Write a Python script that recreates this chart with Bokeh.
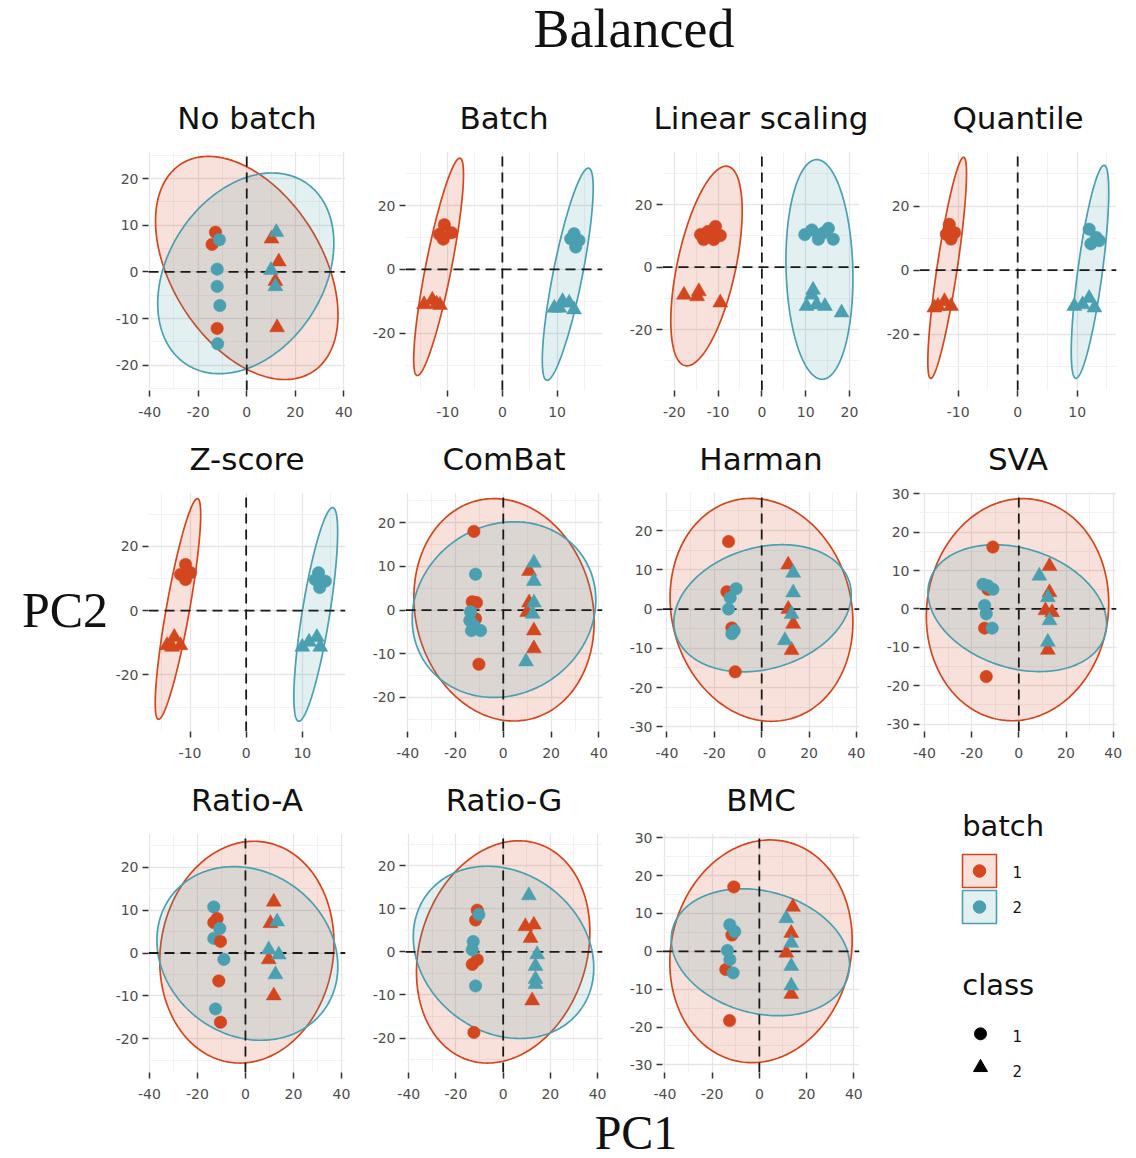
import numpy as np
from bokeh.plotting import figure
from bokeh.layouts import row, column
from bokeh.models import Range1d, FixedTicker, ColumnDataSource, CustomJSTickFormatter
from bokeh.core.properties import value
from bokeh.embed import file_html
from bokeh.resources import INLINE

RED = "#D4461E"
BLUE = "#4A9FB0"

# ---------------- data ----------------
# ellipse = [centre x, centre y, half x-extent, half y-extent, correlation]

nobatch_x = [-12.9, -14.3, -12.2, -11.3, -12.2, -12.2, -11.1, -12.0, 10.2, 13.2, 11.8, 12.5, 12.2, 10.0, 11.8]
nobatch_y = [8.5, 5.9, -12.1, 6.9, 0.6, -3.1, -7.2, -15.4, 7.1, 2.2, -2.0, -11.9, 8.5, 0.4, -3.1]
nobatch_batch = [1, 1, 1, 2, 2, 2, 2, 2, 1, 1, 1, 1, 2, 2, 2]
nobatch_class = [1, 1, 1, 1, 1, 1, 1, 1, 2, 2, 2, 2, 2, 2, 2]
nobatch_ell1 = [0.0, 0.85, 37.6, 23.9, -0.42]
nobatch_ell2 = [-0.4, -0.3, 36.3, 21.5, 0.30]
nobatch_xlim = [-40.5, 40.7]
nobatch_ylim = [-25.4, 25.8]
nobatch_xticks = [-40, -20, 0, 20, 40]
nobatch_yticks = [-20, -10, 0, 10, 20]

batch_x = [-10.6, -9.3, -11.5, -10.8, -14.3, -12.8, -12.0, -11.4, 13.1, 14.0, 13.4, 12.5, 9.5, 11.0, 12.2, 13.1, 10.4]
batch_y = [14.0, 11.5, 11.0, 9.5, -11.0, -9.6, -10.8, -11.2, 11.2, 9.1, 7.0, 9.6, -12.1, -10.0, -10.5, -12.6, -12.1]
batch_batch = [1, 1, 1, 1, 1, 1, 1, 1, 2, 2, 2, 2, 2, 2, 2, 2, 2]
batch_class = [1, 1, 1, 1, 2, 2, 2, 2, 1, 1, 1, 1, 2, 2, 2, 2, 2]
batch_ell1 = [-11.65, 0.8, 4.55, 34.1, 0.85]
batch_ell2 = [11.95, -1.5, 4.65, 33.3, 0.81]
batch_xlim = [-17.7, 18.3]
batch_ylim = [-38.0, 37.0]
batch_xticks = [-10, 0, 10]
batch_yticks = [-20, 0, 20]

linear_x = [-14.0, -12.3, -10.6, -9.5, -11.0, -13.3, -17.8, -14.8, -14.4, -9.5,
            9.8, 11.4, 14.0, 15.2, 16.3, 12.9, 11.4, 12.5, 10.2, 14.4, 18.2, 11.7]
linear_y = [10.4, 11.4, 13.0, 10.1, 8.8, 8.8, -8.9, -9.4, -7.8, -11.4,
            10.4, 11.9, 10.9, 12.4, 8.9, 8.9, -8.9, -12.0, -12.5, -12.5, -14.6, -7.3]
linear_batch = [1] * 10 + [2] * 12
linear_class = [1, 1, 1, 1, 1, 1, 2, 2, 2, 2, 1, 1, 1, 1, 1, 1, 2, 2, 2, 2, 2, 2]
linear_ell1 = [-12.65, 0.35, 8.15, 31.95, 0.55]
linear_ell2 = [13.15, -0.75, 7.65, 35.15, -0.08]
linear_xlim = [-22.7, 22.3]
linear_ylim = [-39.5, 37.0]
linear_xticks = [-20, -10, 0, 10, 20]
linear_yticks = [-20, 0, 20]

quantile_x = [-11.5, -10.6, -12.0, -11.2, -13.4, -12.3, -11.2, -14.0, 12.0, 13.2, 12.3, 13.7, 9.5, 10.9, 12.0, 12.9]
quantile_y = [14.3, 11.7, 11.2, 9.7, -11.2, -9.7, -11.2, -11.7, 12.8, 10.2, 8.2, 9.2, -11.2, -10.7, -8.7, -11.7]
quantile_batch = [1] * 8 + [2] * 8
quantile_class = [1, 1, 1, 1, 2, 2, 2, 2, 1, 1, 1, 1, 2, 2, 2, 2]
quantile_ell1 = [-11.85, 0.75, 3.25, 34.45, 0.85]
quantile_ell2 = [12.15, -0.5, 3.15, 33.2, 0.75]
quantile_xlim = [-16.5, 16.6]
quantile_ylim = [-37.5, 37.0]
quantile_xticks = [-10, 0, 10]
quantile_yticks = [-20, 0, 20]

zscore_x = [-10.8, -9.9, -11.7, -10.8, -14.1, -12.8, -11.7, -13.2, 12.9, 14.1, 13.1, 12.3, 10.0, 11.2, 12.6, 13.2]
zscore_y = [14.4, 11.8, 11.3, 9.7, -10.8, -8.2, -10.8, -11.3, 11.8, 9.2, 7.2, 9.7, -11.3, -9.7, -8.2, -11.3]
zscore_batch = [1] * 8 + [2] * 8
zscore_class = [1, 1, 1, 1, 2, 2, 2, 2, 1, 1, 1, 1, 2, 2, 2, 2]
zscore_ell1 = [-12.15, 0.55, 4.05, 34.35, 0.855]
zscore_ell2 = [12.4, -1.15, 3.9, 33.25, 0.77]
zscore_xlim = [-17.4, 17.7]
zscore_ylim = [-37.6, 36.8]
zscore_xticks = [-10, 0, 10]
zscore_yticks = [-20, 0, 20]

combat_x = [-12.3, -13.0, -11.2, -11.6, -10.2, -11.6, -13.7, -14.0, -12.3, -9.5, -13.3,
            10.8, 10.8, 10.0, 12.8, 12.8, 12.8, 12.8, 12.8, 12.3, 9.5]
combat_y = [18.0, 1.9, 1.7, -2.0, -12.4, 8.2, -0.4, -2.4, -3.5, -4.7, -4.7,
            8.9, 1.7, -0.5, -4.7, -8.8, 10.8, 6.6, 1.7, -0.9, -11.8]
combat_batch = [1, 1, 1, 1, 1, 2, 2, 2, 2, 2, 2, 1, 1, 1, 1, 1, 2, 2, 2, 2, 2]
combat_class = [1] * 11 + [2] * 10
combat_ell1 = [0.3, 0.05, 37.7, 25.45, -0.11]
combat_ell2 = [0.3, 0.1, 38.4, 20.1, 0.11]
combat_xlim = [-40.9, 41.5]
combat_ylim = [-27.8, 26.9]
combat_xticks = [-40, -20, 0, 20, 40]
combat_yticks = [-20, -10, 0, 10, 20]

harman_x = [-14.0, -14.7, -12.6, -11.2, -10.8, -13.3, -14.0, -11.6, -12.6,
            11.2, 11.2, 13.3, 12.6, 13.3, 13.3, 12.6, 9.8]
harman_y = [17.2, 4.4, -4.8, -16.0, 5.2, 2.9, 0.0, -5.5, -6.3,
            11.3, 0.0, -3.8, -10.5, 9.2, 4.2, -1.3, -8.0]
harman_batch = [1, 1, 1, 1, 2, 2, 2, 2, 2, 1, 1, 1, 1, 2, 2, 2, 2]
harman_class = [1] * 9 + [2] * 8
harman_ell1 = [-0.1, -0.2, 38.6, 28.4, -0.11]
harman_ell2 = [0.35, 0.2, 37.45, 16.2, 0.22]
harman_xlim = [-41.9, 41.3]
harman_ylim = [-31.2, 29.7]
harman_xticks = [-40, -20, 0, 20, 40]
harman_yticks = [-30, -20, -10, 0, 10, 20, 30]

sva_x = [-11.0, -13.1, -14.5, -13.8, -15.2, -13.1, -11.0, -14.5, -13.8, -11.3,
         13.0, 13.0, 11.3, 14.1, 12.3, 8.7, 12.3, 13.0, 12.3]
sva_y = [16.1, 5.1, -5.0, -17.6, 6.4, 6.0, 5.1, 0.9, -1.3, -5.0,
         11.1, 4.3, -0.4, -0.9, -10.7, 8.6, 3.0, -3.0, -8.6]
sva_batch = [1, 1, 1, 1, 2, 2, 2, 2, 2, 2, 1, 1, 1, 1, 1, 2, 2, 2, 2]
sva_class = [1] * 10 + [2] * 9
sva_ell1 = [-0.55, -0.2, 38.65, 28.9, 0.06]
sva_ell2 = [-0.65, 0.2, 37.85, 16.5, -0.25]
sva_xlim = [-42.1, 41.4]
sva_ylim = [-31.9, 30.3]
sva_xticks = [-40, -20, 0, 20, 40]
sva_yticks = [-30, -20, -10, 0, 10, 20, 30]

ratioa_x = [-13.2, -11.8, -13.2, -10.7, -13.2, -10.4, -9.0, -11.1, -12.5, -10.4,
            11.8, 10.4, 9.7, 11.8, 13.2, 9.7, 13.9, 12.5]
ratioa_y = [10.7, 8.0, 7.1, 5.7, 3.4, 2.7, -1.5, -6.5, -13.0, -16.1,
            11.9, 6.9, -1.5, -9.9, 7.3, 0.8, -0.4, -5.0]
ratioa_batch = [2, 1, 1, 2, 2, 1, 2, 1, 2, 1, 1, 1, 1, 1, 2, 2, 2, 2]
ratioa_class = [1] * 10 + [2] * 8
ratioa_ell1 = [0.6, 0.2, 36.3, 25.8, 0.08]
ratioa_ell2 = [0.8, -0.1, 37.7, 20.2, -0.15]
ratioa_xlim = [-40.4, 41.7]
ratioa_ylim = [-27.8, 27.8]
ratioa_xticks = [-40, -20, 0, 20, 40]
ratioa_yticks = [-20, -10, 0, 10, 20]

ratiog_x = [-11.0, -11.7, -11.0, -13.1, -12.4, -10.3, -12.7, -13.1, -11.7,
            9.4, 13.0, 11.6, 12.3, 10.9, 14.4, 13.7, 13.7, 13.7]
ratiog_y = [9.7, 7.4, -1.8, -2.9, -18.7, 8.7, 2.4, 0.5, -7.9,
            5.9, 6.3, 3.2, -11.3, 13.1, -0.6, -3.3, -6.3, -7.5]
ratiog_batch = [1, 1, 1, 1, 1, 2, 2, 2, 2, 1, 1, 1, 1, 2, 2, 2, 2, 2]
ratiog_class = [1] * 9 + [2] * 9
ratiog_ell1 = [0.0, 0.0, 36.75, 25.8, 0.18]
ratiog_ell2 = [0.15, -0.1, 38.25, 20.0, -0.18]
ratiog_xlim = [-41.4, 42.1]
ratiog_ylim = [-28.0, 27.5]
ratiog_xticks = [-40, -20, 0, 20, 40]
ratiog_yticks = [-20, -10, 0, 10, 20]

bmc_x = [-10.8, -11.6, -14.2, -12.6, -12.5, -10.4, -13.5, -12.5, -11.1,
         14.2, 13.5, 11.4, 13.5, 11.4, 13.5, 13.5, 13.5]
bmc_y = [17.0, 4.3, -4.8, -18.3, 7.0, 5.2, 0.2, -2.2, -5.7,
         11.7, 4.8, -0.4, -11.3, 8.7, 2.2, -3.9, -9.1]
bmc_batch = [1, 1, 1, 1, 2, 2, 2, 2, 2, 1, 1, 1, 1, 2, 2, 2, 2]
bmc_class = [1] * 9 + [2] * 8
bmc_ell1 = [0.7, 0.0, 38.6, 29.4, 0.1]
bmc_ell2 = [0.45, -0.25, 37.75, 16.75, -0.2]
bmc_xlim = [-41.0, 42.4]
bmc_ylim = [-32.0, 31.1]
bmc_xticks = [-40, -20, 0, 20, 40]
bmc_yticks = [-30, -20, -10, 0, 10, 20, 30]

PANELS = [
    ("No batch", nobatch_x, nobatch_y, nobatch_batch, nobatch_class, nobatch_ell1, nobatch_ell2, nobatch_xlim, nobatch_ylim, nobatch_xticks, nobatch_yticks),
    ("Batch", batch_x, batch_y, batch_batch, batch_class, batch_ell1, batch_ell2, batch_xlim, batch_ylim, batch_xticks, batch_yticks),
    ("Linear scaling", linear_x, linear_y, linear_batch, linear_class, linear_ell1, linear_ell2, linear_xlim, linear_ylim, linear_xticks, linear_yticks),
    ("Quantile", quantile_x, quantile_y, quantile_batch, quantile_class, quantile_ell1, quantile_ell2, quantile_xlim, quantile_ylim, quantile_xticks, quantile_yticks),
    ("Z-score", zscore_x, zscore_y, zscore_batch, zscore_class, zscore_ell1, zscore_ell2, zscore_xlim, zscore_ylim, zscore_xticks, zscore_yticks),
    ("ComBat", combat_x, combat_y, combat_batch, combat_class, combat_ell1, combat_ell2, combat_xlim, combat_ylim, combat_xticks, combat_yticks),
    ("Harman", harman_x, harman_y, harman_batch, harman_class, harman_ell1, harman_ell2, harman_xlim, harman_ylim, harman_xticks, harman_yticks),
    ("SVA", sva_x, sva_y, sva_batch, sva_class, sva_ell1, sva_ell2, sva_xlim, sva_ylim, sva_xticks, sva_yticks),
    ("Ratio-A", ratioa_x, ratioa_y, ratioa_batch, ratioa_class, ratioa_ell1, ratioa_ell2, ratioa_xlim, ratioa_ylim, ratioa_xticks, ratioa_yticks),
    ("Ratio-G", ratiog_x, ratiog_y, ratiog_batch, ratiog_class, ratiog_ell1, ratiog_ell2, ratiog_xlim, ratiog_ylim, ratiog_xticks, ratiog_yticks),
    ("BMC", bmc_x, bmc_y, bmc_batch, bmc_class, bmc_ell1, bmc_ell2, bmc_xlim, bmc_ylim, bmc_xticks, bmc_yticks),
]

BATCH_COLORS = {1: RED, 2: BLUE}
CLASS_MARKERS = {1: "circle", 2: "triangle"}
CLASS_SIZES = {1: 12.5, 2: 15}

TICK_FONT = "DejaVu Sans"
FRAME_W, FRAME_H = 197, 242
CELL_W, CELL_H = 257, 341
BL, BT, BB = 38, 68, 33


def minor_of(ticks):
    step = ticks[1] - ticks[0]
    return [ticks[0] - step / 2 + step * k for k in range(len(ticks) + 1)] + [ticks[0] - 1.5 * step, ticks[-1] + 1.5 * step]


def make_panel(idx, spec):
    name, xs, ys, bs, cs, e1, e2, xlim, ylim, xt, yt = spec
    col = idx % 4
    w = CELL_W if col < 3 else BL + FRAME_W + 10
    p = figure(width=w, height=CELL_H, x_range=Range1d(*xlim), y_range=Range1d(*ylim),
               output_backend="svg", toolbar_location=None, title=name,
               min_border_left=BL, min_border_right=w - BL - FRAME_W,
               min_border_top=BT, min_border_bottom=BB, frame_align=False)
    p.outline_line_color = None
    p.background_fill_color = "white"
    p.border_fill_color = "white"
    p.title.text_font = "DejaVu Sans"
    p.title.text_font_size = "31px"
    p.title.text_font_style = "normal"
    p.title.text_color = "#111111"
    p.title.align = "center"
    p.title.standoff = 31

    fmt = CustomJSTickFormatter(code="return String(tick);")
    p.xaxis.ticker = FixedTicker(ticks=xt, minor_ticks=minor_of(xt))
    p.yaxis.ticker = FixedTicker(ticks=yt, minor_ticks=minor_of(yt))
    for ax in (p.xaxis, p.yaxis):
        ax.formatter = fmt
        ax.axis_line_color = None
        ax.major_tick_line_color = "#333333"
        ax.major_tick_line_width = 1.5
        ax.major_tick_out = 6
        ax.major_tick_in = 0
        ax.minor_tick_line_color = None
        ax.major_label_text_font = TICK_FONT
        ax.major_label_text_font_size = "14px"
        ax.major_label_text_color = "#4D4D4D"
    p.yaxis.major_label_standoff = 4
    p.xaxis.major_label_standoff = 10
    for g in (p.xgrid, p.ygrid):
        g.grid_line_color = "#E6E6E6"
        g.grid_line_width = 1.3
        g.minor_grid_line_color = "#EFEFEF"
        g.minor_grid_line_width = 0.8

    t = np.linspace(0, 2 * np.pi, 241)
    for e, c in ((e1, RED), (e2, BLUE)):
        cx, cy, rx, ry, rho = e
        d = np.arccos(rho)
        ex = cx + rx * np.cos(t)
        ey = cy + ry * np.cos(t - d)
        p.patch(ex, ey, fill_color=c, fill_alpha=0.16, line_color=c, line_width=1.7)

    p.segment(x0=[xlim[0], 0], y0=[0, ylim[0]], x1=[xlim[1], 0], y1=[0, ylim[1]],
              line_color="#1A1A1A", line_dash="10 6", line_width=1.8)

    src = ColumnDataSource(dict(
        x=xs, y=ys,
        color=[BATCH_COLORS[b] for b in bs],
        marker=[CLASS_MARKERS[c] for c in cs],
        size=[CLASS_SIZES[c] for c in cs],
    ))
    p.scatter("x", "y", source=src, marker="marker", size="size",
              fill_color="color", line_color="color", line_width=0.5)
    return p


def blank(w, h):
    f = figure(width=w, height=h, x_range=Range1d(0, w), y_range=Range1d(h, 0),
               x_axis_type=None, y_axis_type=None, output_backend="svg",
               toolbar_location=None, min_border=0, frame_align=False)
    f.outline_line_color = None
    f.grid.visible = False
    f.background_fill_color = "white"
    f.border_fill_color = "white"
    return f


panels = [make_panel(i, s) for i, s in enumerate(PANELS)]

# legend cell (origin at page x=881, y=764)
lg = blank(BL + FRAME_W + 10, CELL_H)
lg.text(x=[80.7], y=[61], text=["batch"], text_font=value("DejaVu Sans"), text_font_size="29px",
        text_color="#111111", text_baseline="middle", text_align="left")
lg.rect(x=[98, 98], y=[106.5, 142.5], width=34, height=33, fill_color=[RED, BLUE], fill_alpha=0.16,
        line_color=[RED, BLUE], line_width=1.6)
lg.scatter(x=[98, 98], y=[106.5, 142.5], marker="circle", size=12.5, fill_color=[RED, BLUE], line_color=[RED, BLUE])
lg.text(x=[131, 131], y=[107.5, 142.5], text=["1", "2"], text_font=value("DejaVu Sans"), text_font_size="15px",
        text_color="#111111", text_baseline="middle", text_align="left")
lg.text(x=[80.7], y=[220], text=["class"], text_font=value("DejaVu Sans"), text_font_size="29px",
        text_color="#111111", text_baseline="middle", text_align="left")
lg.scatter(x=[99], y=[269.3], marker="circle", size=12, color="black")
lg.scatter(x=[99], y=[303], marker="triangle", size=14, color="black")
lg.text(x=[131, 131], y=[271, 306], text=["1", "2"], text_font=value("DejaVu Sans"), text_font_size="15px",
        text_color="#111111", text_baseline="middle", text_align="left")

cells = panels + [lg]
grid = column(row(*cells[0:4]), row(*cells[4:8]), row(*cells[8:12]))

tf = blank(1126, 82)
tf.text(x=[633.5], y=[28], text=["Balanced"], text_font=value("Liberation Serif"), text_font_size="54px",
        text_color="#111111", text_align="center", text_baseline="middle")

pc2 = blank(110, 3 * CELL_H)
pc2.text(x=[64.5], y=[527.5], text=["PC2"], text_font=value("Liberation Serif"), text_font_size="50px",
         text_color="#111111", text_align="center", text_baseline="middle")

pc1 = blank(1126, 53)
pc1.text(x=[635.5], y=[27], text=["PC1"], text_font=value("Liberation Serif"), text_font_size="48px",
         text_color="#111111", text_align="center", text_baseline="middle")

layout = column(tf, row(pc2, grid), pc1)

open("out.html", "w").write(file_html(layout, INLINE))
